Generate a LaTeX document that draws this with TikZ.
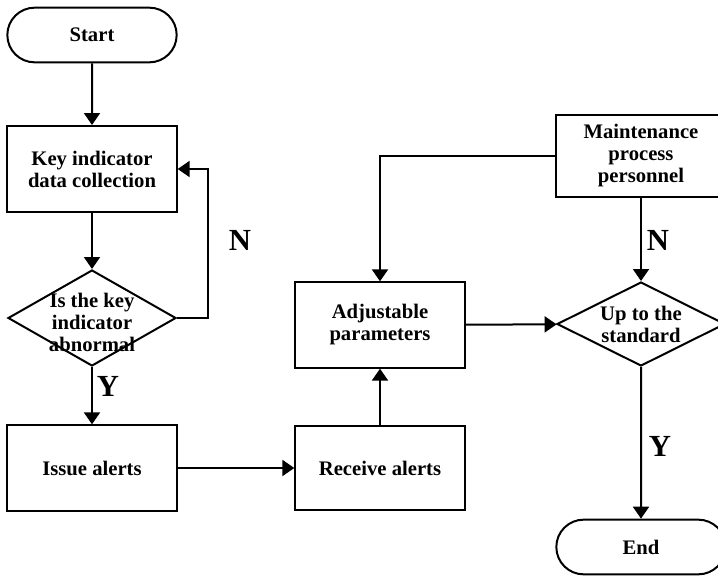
\documentclass[tikz,border=0pt]{standalone}
\usepackage{fontspec}
\setmainfont{Liberation Serif}
\usetikzlibrary{arrows.meta, shapes.geometric, shapes.misc}

\begin{document}
\begin{tikzpicture}[x=0.75pt, y=-0.75pt, line width=1.5pt,
  font=\bfseries\fontsize{15.5}{16.5}\selectfont,
  terminal/.style={draw, rounded rectangle, minimum width=127pt,
    minimum height=41pt, inner sep=0pt},
  procbox/.style={draw, rectangle, minimum width=127pt,
    minimum height=64pt, align=center, inner sep=0pt},
  decision/.style={draw, diamond, minimum width=126pt,
    minimum height=#1, inner sep=0pt},
  flow/.style={-{Triangle[length=9pt, width=12pt]}},
  yn/.style={font=\bfseries\fontsize{23}{23}\selectfont}]

%% ─── Canvas ─────────────────────────────────────────────────
\useasboundingbox (0,0) rectangle (718,576);

%% ─── Left column ────────────────────────────────────────────
\node[terminal] (start) at (92,35) {Start};
\node[procbox, minimum height=64.5pt] (collect) at (92,169)
  {Key indicator\\data collection};
\node[decision=72pt, label={[align=center, yshift=-3pt]center:Is the key\\indicator\\abnormal}]
  (abnormal) at (92,318) {};
\node[procbox] (issue) at (92,468) {Issue alerts};

%% ─── Middle column ──────────────────────────────────────────
\node[procbox] (adjust) at (380,325) {Adjustable\\parameters};
\node[procbox, minimum height=63pt] (receive) at (380,468) {Receive alerts};

%% ─── Right column ───────────────────────────────────────────
\node[procbox, minimum width=128pt, minimum height=62pt] (staff) at (641,156)
  {Maintenance\\process\\personnel};
\node[decision=63pt, label={[align=center]center:Up to the\\standard}]
  (standard) at (641,324) {};
\node[terminal] (finish) at (641,547) {End};

%% ─── Connectors ─────────────────────────────────────────────
\draw[flow] (start) -- (collect);
\draw[flow] (collect) -- (abnormal);
\draw[flow] (abnormal.east) -- ++(31,0) |- (collect.east);
\node[yn] (nleft) at (240,240) {N};
\draw[flow] (abnormal) -- (issue);
\node[yn] (yleft) at (108,386) {Y};
\draw[flow] (issue) -- (receive);
\draw[flow] (receive) -- (adjust);
\draw[flow] (adjust) -- (standard);
\draw[flow] (staff.west) -| (adjust.north);
\draw[flow] (staff) -- (standard);
\node[yn] (nright) at (658,240) {N};
\draw[flow] (standard) -- (finish);
\node[yn] (yright) at (660,446) {Y};

\end{tikzpicture}
\end{document}
